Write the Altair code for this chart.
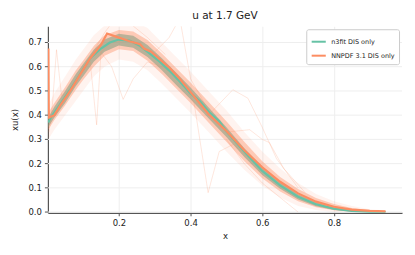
import altair as alt
import pandas as pd

# central curves
x_green = [0.003, 0.01, 0.036, 0.064, 0.091, 0.12, 0.15, 0.175, 0.2, 0.23, 0.26, 0.29, 0.314, 0.34, 0.37, 0.4, 0.426, 0.45, 0.48, 0.5, 0.55, 0.6, 0.65, 0.7, 0.75, 0.8, 0.85, 0.9, 0.944]
y_green = [0.37, 0.39, 0.445, 0.505, 0.567, 0.635, 0.675, 0.70, 0.712, 0.708, 0.685, 0.65, 0.621, 0.585, 0.539, 0.49, 0.457, 0.415, 0.375, 0.333, 0.25, 0.17, 0.11, 0.063, 0.032, 0.014, 0.005, 0.001, 0.0]

x_orange = [0.0035, 0.0045, 0.02, 0.036, 0.064, 0.091, 0.12, 0.15, 0.167, 0.2, 0.23, 0.259, 0.27, 0.29, 0.342, 0.37, 0.4, 0.45, 0.5, 0.55, 0.6, 0.65, 0.7, 0.75, 0.8, 0.85, 0.9, 0.944]
y_orange = [0.675, 0.39, 0.40, 0.44, 0.50, 0.565, 0.635, 0.69, 0.737, 0.72, 0.705, 0.693, 0.675, 0.662, 0.595, 0.55, 0.495, 0.405, 0.335, 0.255, 0.185, 0.125, 0.077, 0.043, 0.022, 0.01, 0.005, 0.003]

# replica spread bands
x_band = [0.003, 0.02, 0.05, 0.08, 0.1, 0.13, 0.16, 0.2, 0.24, 0.28, 0.32, 0.36, 0.4, 0.45, 0.5, 0.55, 0.6, 0.65, 0.7, 0.75, 0.8, 0.85, 0.9, 0.944]
green_lo = [0.35, 0.39, 0.45, 0.52, 0.56, 0.62, 0.662, 0.688, 0.678, 0.64, 0.585, 0.525, 0.466, 0.387, 0.31, 0.227, 0.153, 0.096, 0.052, 0.024, 0.009, 0.002, 0.0, 0.0]
green_hi = [0.39, 0.435, 0.50, 0.57, 0.61, 0.67, 0.712, 0.736, 0.728, 0.69, 0.635, 0.575, 0.514, 0.433, 0.35, 0.263, 0.187, 0.124, 0.074, 0.04, 0.019, 0.008, 0.002, 0.0]
orange_lo = [0.34, 0.38, 0.44, 0.505, 0.545, 0.60, 0.645, 0.672, 0.665, 0.625, 0.57, 0.51, 0.45, 0.37, 0.29, 0.21, 0.14, 0.085, 0.045, 0.02, 0.007, 0.001, 0.0, 0.0]
orange_hi = [0.41, 0.45, 0.515, 0.585, 0.625, 0.685, 0.73, 0.752, 0.745, 0.71, 0.655, 0.595, 0.535, 0.455, 0.375, 0.29, 0.21, 0.145, 0.095, 0.058, 0.033, 0.017, 0.008, 0.004]
orange_lo2 = [0.30, 0.34, 0.40, 0.46, 0.50, 0.56, 0.60, 0.63, 0.62, 0.585, 0.53, 0.47, 0.41, 0.33, 0.25, 0.175, 0.11, 0.06, 0.025, 0.008, 0.0, 0.0, 0.0, 0.0]
orange_hi2 = [0.44, 0.49, 0.56, 0.63, 0.67, 0.73, 0.77, 0.79, 0.79, 0.76, 0.70, 0.64, 0.58, 0.50, 0.42, 0.33, 0.25, 0.18, 0.12, 0.075, 0.045, 0.025, 0.012, 0.006]

# a few outlier replicas
outliers = [
    ([0.1, 0.12, 0.138, 0.15, 0.18, 0.22, 0.26, 0.3], [0.58, 0.62, 0.36, 0.66, 0.70, 0.71, 0.68, 0.64]),
    ([0.15, 0.18, 0.212, 0.24, 0.28, 0.32, 0.36], [0.66, 0.60, 0.465, 0.55, 0.62, 0.60, 0.56]),
    ([0.38, 0.41, 0.449, 0.48, 0.52, 0.58, 0.64], [0.53, 0.45, 0.08, 0.25, 0.28, 0.20, 0.12]),
    ([0.4, 0.45, 0.518, 0.56, 0.6, 0.64, 0.7], [0.49, 0.40, 0.505, 0.47, 0.35, 0.22, 0.10]),
    ([0.3, 0.34, 0.37, 0.4, 0.45], [0.66, 0.72, 0.80, 0.55, 0.42]),
    ([0.12, 0.16, 0.19, 0.23, 0.28, 0.33], [0.64, 0.74, 0.80, 0.78, 0.72, 0.65]),
    ([0.005, 0.015, 0.026, 0.04, 0.06, 0.09], [0.33, 0.45, 0.67, 0.48, 0.50, 0.56]),
    ([0.45, 0.5, 0.565, 0.6, 0.62, 0.66, 0.72], [0.41, 0.33, 0.34, 0.30, 0.287, 0.18, 0.08]),
    ([0.5, 0.55, 0.6, 0.65, 0.7], [0.30, 0.20, 0.12, 0.06, 0.0]),
]

x_ticks = [0.2, 0.4, 0.6, 0.8]
y_ticks = [0.0, 0.1, 0.2, 0.3, 0.4, 0.5, 0.6, 0.7]
y_tick_labels = ["0.0", "0.1", "0.2", "0.3", "0.4", "0.5", "0.6", "0.7"]

series = ["n3fit DIS only", "NNPDF 3.1 DIS only"]
colors = ["#66c2a5", "#fc8d62"]

central = pd.concat([
    pd.DataFrame({"x": x_green, "v": y_green, "series": series[0]}),
    pd.DataFrame({"x": x_orange, "v": y_orange, "series": series[1]}),
])
band_outer = pd.DataFrame({"x": x_band, "v": orange_lo2, "v2": orange_hi2})
band_inner = pd.DataFrame({"x": x_band, "v": orange_lo, "v2": orange_hi})
band_green = pd.DataFrame({"x": x_band, "v": green_lo, "v2": green_hi})
rep = pd.concat([pd.DataFrame({"x": xs, "v": ys, "rep": i}) for i, (xs, ys) in enumerate(outliers)])
yt = pd.DataFrame({"v": y_ticks, "lab": y_tick_labels})

xscale = alt.Scale(domain=[0.002, 0.99], nice=False, zero=False)
yscale = alt.Scale(domain=[-0.003, 0.767], nice=False, zero=False)

xaxis = alt.Axis(values=x_ticks, format=".1f", title="x", titlePadding=4, labelOverlap=False)
# y-axis: domain line and title from the axis; grid, ticks and labels drawn from y_ticks below
yaxis = alt.Axis(title="xu(x)", titlePadding=28, labels=False, ticks=False, grid=False)

X = alt.X("x:Q", scale=xscale, axis=xaxis)
Y = alt.Y("v:Q", scale=yscale, axis=yaxis)

ygrid = alt.Chart(yt).mark_rule(color="#eeeeee", strokeWidth=1).encode(y=Y)
ytickmarks = alt.Chart(yt).mark_rule(color="#555555", strokeWidth=1).encode(
    x=alt.value(-3), x2=alt.value(0), y=Y)
ylabels = alt.Chart(yt).mark_text(align="right", baseline="middle", font="DejaVu Sans",
                                  fontSize=8.5, color="#222222").encode(
    x=alt.value(-6), y=Y, text="lab:N")

outer = alt.Chart(band_outer).mark_area(color=colors[1], opacity=0.1, clip=True).encode(
    x=X, y=Y, y2="v2:Q")
inner = alt.Chart(band_inner).mark_area(color=colors[1], opacity=0.4, clip=True).encode(
    x=X, y=Y, y2="v2:Q")
green_band = alt.Chart(band_green).mark_area(color="#7f9c80", opacity=0.55, clip=True).encode(
    x=X, y=Y, y2="v2:Q")

reps = alt.Chart(rep).mark_line(color=colors[1], opacity=0.3, strokeWidth=0.7, clip=True).encode(
    x=X, y=Y, detail="rep:N")

lines = alt.Chart(central).mark_line(strokeWidth=2.2, clip=True).encode(
    x=X,
    y=Y,
    color=alt.Color("series:N", scale=alt.Scale(domain=series, range=colors), sort=series,
                    legend=alt.Legend(title=None, orient="top-right", offset=3,
                                      symbolType="stroke", symbolSize=200, symbolStrokeWidth=2,
                                      labelFontSize=6.5, labelFont="DejaVu Sans", labelColor="#222",
                                      strokeColor="#cccccc", fillColor="white", padding=4,
                                      cornerRadius=2, rowPadding=1, labelOffset=4)),
)

chart = alt.layer(ygrid, outer, inner, green_band, reps, lines, ytickmarks, ylabels).properties(
    width=355, height=187,
    title=alt.TitleParams("u at 1.7 GeV", fontSize=10.5, fontWeight="normal", font="DejaVu Sans",
                          color="#222", offset=5),
    autosize=alt.AutoSizeParams(type="none"),
    padding={"left": 40, "top": 18, "right": 5, "bottom": 35},
).configure_view(stroke=None).configure_axis(
    domainColor="#555", domainWidth=1.2, tickColor="#555", tickSize=3,
    gridColor="#eeeeee", labelFont="DejaVu Sans", labelFontSize=8.5, labelColor="#222",
    titleFont="DejaVu Sans", titleFontSize=8.5, titleFontWeight="normal", titleColor="#222",
    labelPadding=3,
)

chart.save("out.html", embed_options={"renderer": "svg", "actions": False})
